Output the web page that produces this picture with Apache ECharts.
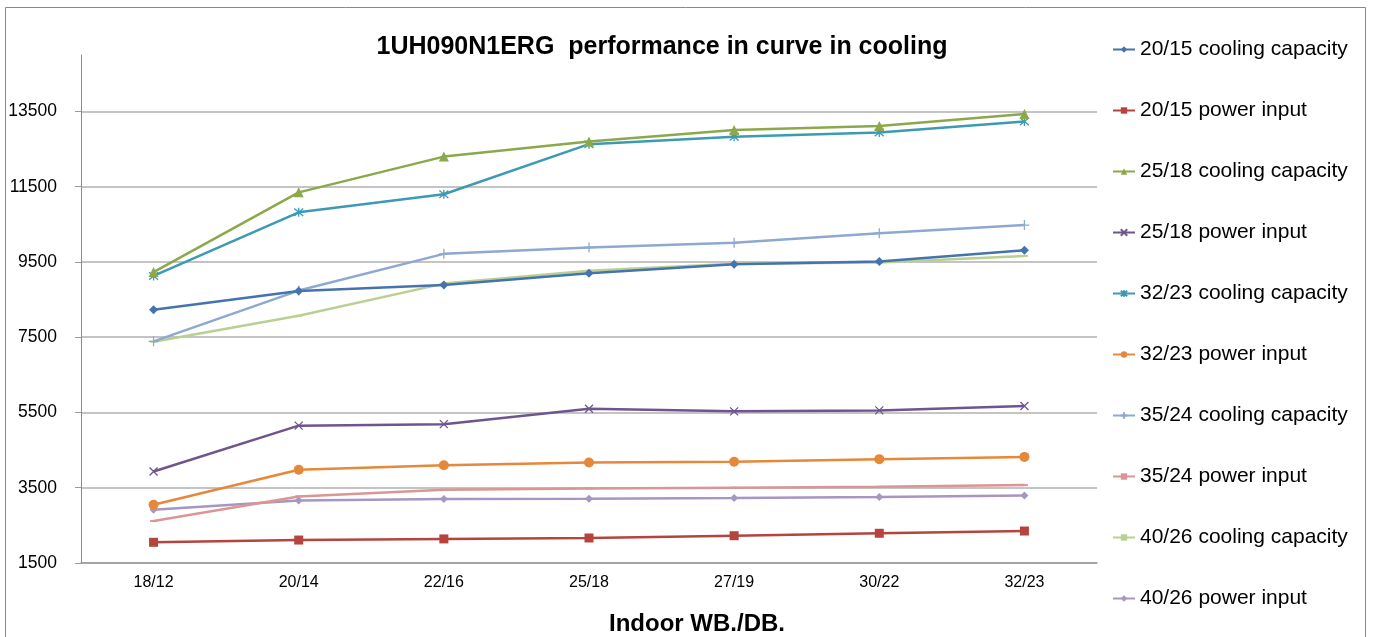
<!DOCTYPE html>
<html>
<head>
<meta charset="utf-8">
<script src="https://cdn.jsdelivr.net/npm/echarts@6/dist/echarts.min.js"></script>
<style>
html,body{margin:0;padding:0;background:#fff;overflow:hidden;}
#chart{width:1373px;height:637px;}
</style>
</head>
<body>
<div id="chart"></div>
<script>
var categories = ['18/12','20/14','22/16','25/18','27/19','30/22','32/23'];
var yTicks = [1500, 3500, 5500, 7500, 9500, 11500, 13500];

var cap_20_15 = [8230, 8730, 8890, 9200, 9440, 9510, 9810];
var pwr_20_15 = [2050, 2110, 2140, 2165, 2225, 2290, 2350];
var cap_25_18 = [9230, 11350, 12300, 12700, 13010, 13115, 13435];
var pwr_25_18 = [3930, 5150, 5190, 5600, 5530, 5555, 5670];
var cap_32_23 = [9130, 10820, 11300, 12630, 12830, 12940, 13230];
var pwr_32_23 = [3050, 3980, 4100, 4170, 4190, 4260, 4320];
var cap_35_24 = [7390, 8740, 9715, 9885, 10010, 10265, 10480];
var pwr_35_24 = [2615, 3270, 3445, 3480, 3500, 3525, 3570];
var cap_40_26 = [7380, 8070, 8925, 9265, 9455, 9485, 9660];
var pwr_40_26 = [2915, 3160, 3200, 3210, 3225, 3255, 3295];

var seriesNames = ['20/15 cooling capacity','20/15 power input','25/18 cooling capacity','25/18 power input',
  '32/23 cooling capacity','32/23 power input','35/24 cooling capacity','35/24 power input',
  '40/26 cooling capacity','40/26 power input'];
var seriesData = [cap_20_15, pwr_20_15, cap_25_18, pwr_25_18, cap_32_23, pwr_32_23, cap_35_24, pwr_35_24, cap_40_26, pwr_40_26];
var seriesColors = ['#4573AD','#B5443F','#8BA84A','#6E558F','#3C9AB3','#E6883A','#8EA8D0','#D99694','#B9D092','#A696C2'];
var seriesSymbols = ['diamond','rect','triangle','path://M0,0L10,10M10,0L0,10','path://M0,0L10,10M10,0L0,10M5,-1L5,11',
  'circle','path://M5,0L5,10M0,5L10,5','rect','rect','diamond'];
var symbolSizes = [9, 9, 10, 8, 9, 10, 10, [7, 2], [7, 2], 8];

var FONT = '"Liberation Sans", Arial, sans-serif';

var series = seriesNames.map(function(n, i){
  var open = seriesSymbols[i].indexOf('path://') === 0;
  return {
    name: n,
    type: 'line',
    data: seriesData[i],
    symbol: seriesSymbols[i],
    symbolSize: symbolSizes[i],
    lineStyle: {color: seriesColors[i], width: 2.5},
    itemStyle: open ? {color: seriesColors[i], borderColor: seriesColors[i], borderWidth: 1.3} : {color: seriesColors[i]},
    emphasis: {disabled: true},
    animation: false,
    z: 10 - i
  };
});

var chart = echarts.init(document.getElementById('chart'), null, {renderer: 'canvas'});
chart.setOption({
  backgroundColor: '#fff',
  animation: false,
  textStyle: {fontFamily: FONT},
  title: [{
    text: '1UH090N1ERG  performance in curve in cooling',
    left: 657, top: 30, textAlign: 'center',
    textStyle: {fontFamily: FONT, fontSize: 25, fontWeight: 'bold', color: '#000'}
  }, {
    text: 'Indoor WB./DB.',
    left: 692, top: 607, textAlign: 'center',
    textStyle: {fontFamily: FONT, fontSize: 24, fontWeight: 'bold', color: '#000'}
  }],
  legend: {
    orient: 'vertical',
    left: 1107, top: 34,
    padding: 5,
    itemWidth: 22, itemHeight: 8,
    itemGap: 40,
    textStyle: {fontFamily: FONT, fontSize: 21, color: '#000', lineHeight: 21},
    data: seriesNames
  },
  graphic: [{
    type: 'rect', silent: true,
    shape: {x: 5.5, y: 7.5, width: 1360, height: 640},
    style: {fill: 'none', stroke: '#898989', lineWidth: 1}
  }],
  grid: {left: 81, right: 276, top: 55, bottom: 74, outerBoundsMode: 'none', containLabel: false},
  xAxis: {
    type: 'category',
    data: categories,
    boundaryGap: true,
    axisLine: {lineStyle: {color: '#9a9a9a', width: 1.5}},
    axisTick: {show: false},
    axisLabel: {fontFamily: FONT, fontSize: 16, color: '#000', margin: 12}
  },
  yAxis: {
    type: 'value',
    min: 1500, max: 15000, interval: 2000,
    axisLine: {show: true, lineStyle: {color: '#8a8a8a', width: 1}},
    axisTick: {show: true, length: 6, lineStyle: {color: '#9a9a9a'}},
    axisLabel: {
      fontFamily: FONT, fontSize: 17.5, color: '#000', margin: 24,
      showMaxLabel: false,
      formatter: function(v){ return yTicks.indexOf(v) >= 0 ? String(v) : ''; }
    },
    splitLine: {show: true, showMaxLine: false, lineStyle: {color: '#b0b0b0', width: 1.5}}
  },
  series: series
});
</script>
</body>
</html>
